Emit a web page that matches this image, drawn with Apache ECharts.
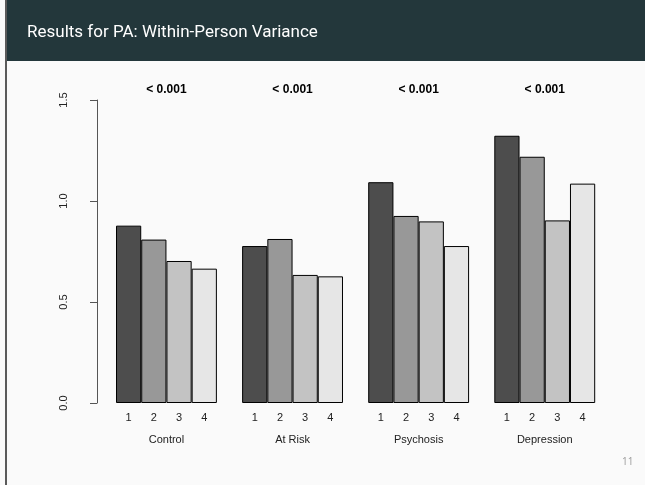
<!DOCTYPE html>
<html>
<head>
<meta charset="utf-8">
<script src="https://cdn.jsdelivr.net/npm/echarts@6/dist/echarts.min.js"></script>
<style>
html,body{margin:0;padding:0;background:#FAFAFA;}
#c{width:645px;height:485px;}
</style>
</head>
<body>
<div id="c"></div>
<script>
var groups = ['Control', 'At Risk', 'Psychosis', 'Depression'];
var pValues = ['< 0.001', '< 0.001', '< 0.001', '< 0.001'];
var seriesNames = ['1', '2', '3', '4'];
var values1 = [0.878, 0.777, 1.093, 1.323];
var values2 = [0.809, 0.812, 0.926, 1.219];
var values3 = [0.703, 0.634, 0.899, 0.904];
var values4 = [0.665, 0.627, 0.777, 1.086];
var yTicks = [0, 0.5, 1.0, 1.5];
var barColors = ['#4D4D4D', '#989898', '#C3C3C3', '#E6E6E6'];
var allValues = [values1, values2, values3, values4];

var chart = echarts.init(document.getElementById('c'));
var series = seriesNames.map(function (n, i) {
  return {
    name: n,
    type: 'bar',
    data: allValues[i],
    barGap: '0%',
    barCategoryGap: '20%',
    itemStyle: { color: barColors[i], borderColor: '#000', borderWidth: 1 },
    label: {
      show: true, position: 'bottom', distance: 9,
      formatter: function () { return n; },
      color: '#222', fontFamily: 'Liberation Sans', fontSize: 11
    },
    animation: false
  };
});

chart.setOption({
  backgroundColor: '#FAFAFA',
  animation: false,
  grid: { left: 103.4, right: 37.2, top: 100, bottom: 82 },
  xAxis: [{
    type: 'category', data: groups, position: 'bottom',
    axisLine: { show: false }, axisTick: { show: false },
    axisLabel: { margin: 31, color: '#222', fontFamily: 'Liberation Sans', fontSize: 11 }
  }, {
    type: 'category', data: pValues, position: 'top',
    axisLine: { show: false }, axisTick: { show: false },
    axisLabel: { margin: 4, color: '#000', fontWeight: 'bold', fontFamily: 'Liberation Sans', fontSize: 12 }
  }],
  yAxis: {
    type: 'value', min: yTicks[0], max: yTicks[yTicks.length - 1], interval: 0.5, offset: 6.4,
    splitLine: { show: false },
    axisLine: { show: true, lineStyle: { color: '#555', width: 1 } },
    axisTick: { show: true, length: 7, lineStyle: { color: '#555' } },
    axisLabel: {
      rotate: 90, margin: 28, color: '#222', fontFamily: 'Liberation Sans', fontSize: 11,
      formatter: function (v) { return v.toFixed(1); }
    }
  },
  series: series,
  graphic: [
    { type: 'rect', shape: { x: 7, y: 0, width: 638, height: 61 }, style: { fill: '#23373B' }, silent: true },
    { type: 'rect', shape: { x: 5, y: 0, width: 2, height: 485 }, style: { fill: '#5A5A5A' }, silent: true },
    { type: 'text', left: 27, top: 24, style: { text: 'Results for PA: Within-Person Variance', fill: '#FFFFFF', font: '17px Roboto' } },
    { type: 'text', left: 622, top: 457, style: { text: '11', fill: '#9A9A9A', font: '10px "Open Sans"' } }
  ]
});
</script>
</body>
</html>
